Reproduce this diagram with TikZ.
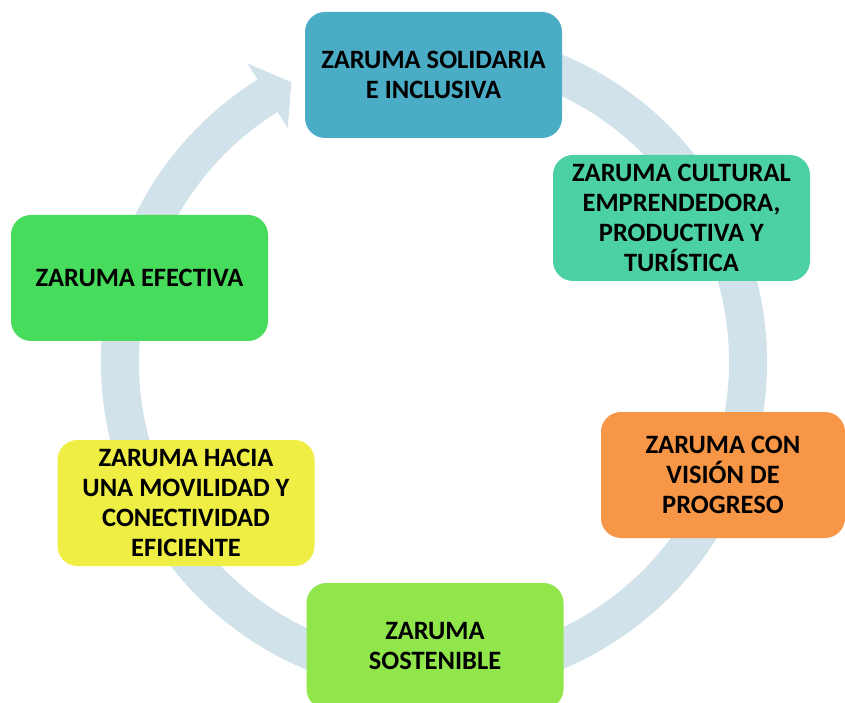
\documentclass[tikz,border=0pt]{standalone}
\usepackage{fontspec}
\setmainfont{Carlito}
\usetikzlibrary{positioning}
\definecolor{ringblue}{RGB}{209,226,234}
\definecolor{solidblue}{RGB}{75,172,198}
\definecolor{culturalgreen}{RGB}{76,209,163}
\definecolor{progorange}{RGB}{247,150,70}
\definecolor{sostlime}{RGB}{145,230,75}
\definecolor{movyellow}{RGB}{238,238,68}
\definecolor{efecgreen}{RGB}{72,220,92}

\begin{document}
\begin{tikzpicture}[x=1pt, y=1pt,
  goalbox/.style={rounded corners=20pt, minimum width=257pt, minimum height=126pt,
    inner sep=0pt, align=center, font=\fontsize{26.5}{30}\selectfont\bfseries}]
  \useasboundingbox (0,0) rectangle (845,702);
  \coordinate (hub) at (434,340);

  % Cycle ring with arrowhead
  \begin{scope}[shift={(hub)}]
    \fill[ringblue] (75:333) arc[start angle=75, end angle=-238, radius=333]
      -- (-238:352) -- (-243:314) -- (-238:276) -- (-238:295)
      arc[start angle=-238, end angle=75, radius=295] -- cycle;
  \end{scope}

  % Goal boxes
  \node[goalbox, fill=solidblue] (solidaria) at (433.5,627) {ZARUMA SOLIDARIA\\E INCLUSIVA};
  \node[goalbox, fill=culturalgreen] (cultural) at (681.5,484) {ZARUMA CULTURAL\\EMPRENDEDORA,\\PRODUCTIVA Y\\TURÍSTICA};
  \node[goalbox, fill=progorange, minimum width=244pt] (progreso) at (723,227) {ZARUMA CON\\VISIÓN DE\\PROGRESO};
  \node[goalbox, fill=sostlime] (sostenible) at (435,56) {ZARUMA\\SOSTENIBLE};
  \node[goalbox, fill=movyellow] (movilidad) at (186,199) {ZARUMA HACIA\\UNA MOVILIDAD Y\\CONECTIVIDAD\\EFICIENTE};
  \node[goalbox, fill=efecgreen] (efectiva) at (139.5,424) {ZARUMA EFECTIVA};
\end{tikzpicture}
\end{document}
